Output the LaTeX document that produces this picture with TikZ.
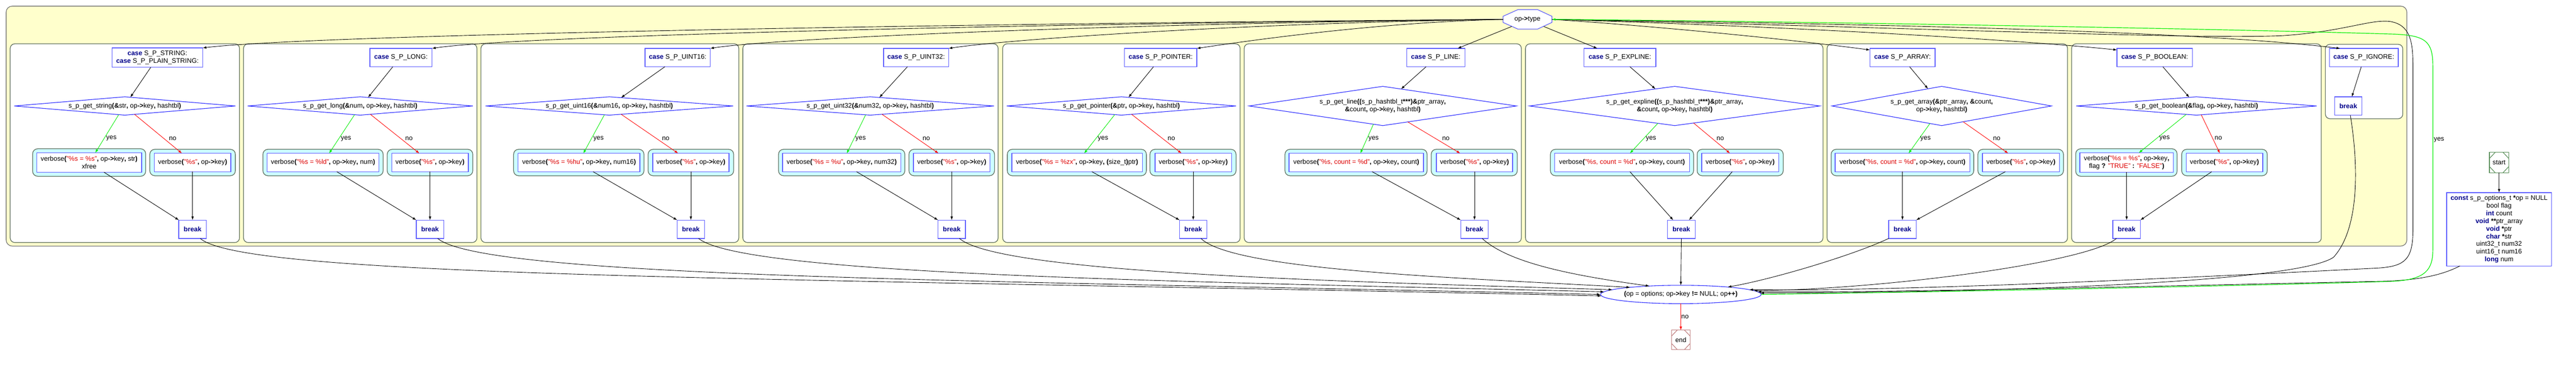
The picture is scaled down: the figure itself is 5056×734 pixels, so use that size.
\documentclass[tikz,border=0pt]{standalone}
\usepackage{fontspec}
\setmainfont{Liberation Sans}
\usetikzlibrary{calc,arrows.meta,shapes.geometric}
\pgfdeclarelayer{back}
\pgfdeclarelayer{mid}
\pgfsetlayers{back,mid,main}
\definecolor{kwc}{HTML}{00008B}
\definecolor{strc}{HTML}{DD0000}
\definecolor{boxb}{HTML}{5C5CFF}
\definecolor{diab}{HTML}{2222FF}
\definecolor{clb}{HTML}{5F6F5F}
\definecolor{yelf}{HTML}{FFFFCC}
\definecolor{yelb}{HTML}{777777}
\definecolor{cyanf}{HTML}{CCFFFF}
\definecolor{endc}{HTML}{C08080}
\definecolor{startc}{HTML}{5A8F5A}
\definecolor{yesg}{HTML}{00EE00}
\newcommand{\mykw}[1]{{\bfseries\color{kwc}#1}}
\newcommand{\myop}[1]{{\bfseries #1}}
\newcommand{\mystr}[1]{{\color{strc}#1}}
\tikzset{
  txt/.style={font=\fontsize{13}{15}\selectfont, align=center, inner sep=0pt, outer sep=0pt},
  bluebox/.style={txt, draw=boxb, line width=1.4pt, fill=white},
  textonly/.style={txt},
  clusterbox/.style={draw=clb, line width=1.3pt, fill=white, rounded corners=9pt},
  cyanbox/.style={draw=clb, line width=1.3pt, fill=cyanf, rounded corners=10pt},
  yellowbox/.style={draw=yelb, line width=1.3pt, fill=yelf, rounded corners=12pt},
  diapoly/.style={draw=diab, line width=1.1pt, fill=white},
  octpoly/.style={draw=boxb, line width=1.2pt, fill=white},
  arr/.style={draw=black, line width=0.9pt, -{Latex[length=7pt,width=5pt]}},
  yesarr/.style={arr, draw=yesg},
  noarr/.style={arr, draw=red},
  elabel/.style={txt, anchor=west},
  msq/.style={txt, line width=1.2pt, minimum width=38pt, minimum height=40pt},
}
\begin{document}
\begin{tikzpicture}[x=1pt,y=-1pt]
\useasboundingbox (0,0) rectangle (5056,734);

% ---------------- backgrounds (clusters) ----------------
\begin{pgfonlayer}{back}
\draw[yellowbox] (12,12) rectangle (4724,483);
\draw[clusterbox] (20,86) rectangle (470,476);
\draw[clusterbox] (478,86) rectangle (936,476);
\draw[clusterbox] (944,86) rectangle (1450,476);
\draw[clusterbox] (1458,86) rectangle (1959,476);
\draw[clusterbox] (1968,86) rectangle (2434,476);
\draw[clusterbox] (2442,86) rectangle (2986,476);
\draw[clusterbox] (2994,86) rectangle (3578,476);
\draw[clusterbox] (3586,86) rectangle (4058,476);
\draw[clusterbox] (4066,86) rectangle (4556,476);
\draw[clusterbox] (4564,87) rectangle (4716,233);
% cyan wrappers
\draw[cyanbox] (64,292) rectangle (286,346);
\draw[cyanbox] (294,293) rectangle (462,345);
\draw[cyanbox] (516,293) rectangle (752,345);
\draw[cyanbox] (760,293) rectangle (928,345);
\draw[cyanbox] (1008,293) rectangle (1264,345);
\draw[cyanbox] (1272,293) rectangle (1440,345);
\draw[cyanbox] (1528,293) rectangle (1776,345);
\draw[cyanbox] (1784,293) rectangle (1952,345);
\draw[cyanbox] (1977,293) rectangle (2250,345);
\draw[cyanbox] (2257,293) rectangle (2426,345);
\draw[cyanbox] (2522,293) rectangle (2801,345);
\draw[cyanbox] (2809,293) rectangle (2978,345);
\draw[cyanbox] (3043,293) rectangle (3324,345);
\draw[cyanbox] (3331,293) rectangle (3500,345);
\draw[cyanbox] (3594,293) rectangle (3874,345);
\draw[cyanbox] (3882,293) rectangle (4050,345);
\draw[cyanbox] (4074,292) rectangle (4273,346);
\draw[cyanbox] (4282,293) rectangle (4450,345);
\end{pgfonlayer}

% ---------------- nodes ----------------
\node[textonly, minimum width=96pt, minimum height=38pt] (ot) at (2998,38) {op\myop{->}type};

% cluster 1
\node[bluebox, minimum width=178pt, minimum height=38pt] (c1) at (309,113) {\mykw{case} S\_P\_STRING:\\\mykw{case} S\_P\_PLAIN\_STRING:};
\node[textonly, minimum width=434pt, minimum height=36pt] (d1) at (245,208) {s\_p\_get\_string\myop{(\&}str\myop{,} op\myop{->}key\myop{,} hashtbl\myop{)}};
\node[bluebox, minimum width=206pt, minimum height=38pt] (y1) at (175,319) {verbose\myop{(}\mystr{"\%s = \%s"}\myop{,} op\myop{->}key\myop{,} str\myop{)}\\xfree};
\node[bluebox, minimum width=150pt, minimum height=36pt] (n1) at (378,319) {verbose\myop{(}\mystr{"\%s"}\myop{,} op\myop{->}key\myop{)}};
\node[bluebox, minimum width=54pt, minimum height=36pt] (b1) at (378,450) {\mykw{break}};

% cluster 2
\node[bluebox, minimum width=122pt, minimum height=36pt] (c2) at (787,113) {\mykw{case} S\_P\_LONG:};
\node[textonly, minimum width=442pt, minimum height=36pt] (d2) at (707,208) {s\_p\_get\_long\myop{(\&}num\myop{,} op\myop{->}key\myop{,} hashtbl\myop{)}};
\node[bluebox, minimum width=220pt, minimum height=36pt] (y2) at (634,319) {verbose\myop{(}\mystr{"\%s = \%ld"}\myop{,} op\myop{->}key\myop{,} num\myop{)}};
\node[bluebox, minimum width=150pt, minimum height=36pt] (n2) at (844,319) {verbose\myop{(}\mystr{"\%s"}\myop{,} op\myop{->}key\myop{)}};
\node[bluebox, minimum width=54pt, minimum height=36pt] (b2) at (844,450) {\mykw{break}};

% cluster 3
\node[bluebox, minimum width=128pt, minimum height=36pt] (c3) at (1330,113) {\mykw{case} S\_P\_UINT16:};
\node[textonly, minimum width=486pt, minimum height=36pt] (d3) at (1196,208) {s\_p\_get\_uint16\myop{(\&}num16\myop{,} op\myop{->}key\myop{,} hashtbl\myop{)}};
\node[bluebox, minimum width=239pt, minimum height=36pt] (y3) at (1136.5,319) {verbose\myop{(}\mystr{"\%s = \%hu"}\myop{,} op\myop{->}key\myop{,} num16\myop{)}};
\node[bluebox, minimum width=150pt, minimum height=36pt] (n3) at (1356,319) {verbose\myop{(}\mystr{"\%s"}\myop{,} op\myop{->}key\myop{)}};
\node[bluebox, minimum width=54pt, minimum height=36pt] (b3) at (1356,450) {\mykw{break}};

% cluster 4
\node[bluebox, minimum width=128pt, minimum height=36pt] (c4) at (1798,113) {\mykw{case} S\_P\_UINT32:};
\node[textonly, minimum width=486pt, minimum height=36pt] (d4) at (1708,208) {s\_p\_get\_uint32\myop{(\&}num32\myop{,} op\myop{->}key\myop{,} hashtbl\myop{)}};
\node[bluebox, minimum width=232pt, minimum height=36pt] (y4) at (1652,319) {verbose\myop{(}\mystr{"\%s = \%u"}\myop{,} op\myop{->}key\myop{,} num32\myop{)}};
\node[bluebox, minimum width=150pt, minimum height=36pt] (n4) at (1868,319) {verbose\myop{(}\mystr{"\%s"}\myop{,} op\myop{->}key\myop{)}};
\node[bluebox, minimum width=54pt, minimum height=36pt] (b4) at (1868,450) {\mykw{break}};

% cluster 5
\node[bluebox, minimum width=142pt, minimum height=36pt] (c5) at (2278,113) {\mykw{case} S\_P\_POINTER:};
\node[textonly, minimum width=450pt, minimum height=36pt] (d5) at (2201,208) {s\_p\_get\_pointer\myop{(\&}ptr\myop{,} op\myop{->}key\myop{,} hashtbl\myop{)}};
\node[bluebox, minimum width=256pt, minimum height=36pt] (y5) at (2114,319) {verbose\myop{(}\mystr{"\%s = \%zx"}\myop{,} op\myop{->}key\myop{, (}size\_t\myop{)}ptr\myop{)}};
\node[bluebox, minimum width=150pt, minimum height=36pt] (n5) at (2342,319) {verbose\myop{(}\mystr{"\%s"}\myop{,} op\myop{->}key\myop{)}};
\node[bluebox, minimum width=54pt, minimum height=36pt] (b5) at (2342,450) {\mykw{break}};

% cluster 6
\node[bluebox, minimum width=114pt, minimum height=36pt] (c6) at (2818,113) {\mykw{case} S\_P\_LINE:};
\node[textonly, minimum width=525pt, minimum height=77pt] (d6) at (2714,208) {s\_p\_get\_line\myop{((}s\_p\_hashtbl\_t\myop{***)\&}ptr\_array\myop{,}\\\myop{\&}count\myop{,} op\myop{->}key\myop{,} hashtbl\myop{)}};
\node[bluebox, minimum width=264pt, minimum height=36pt] (y6) at (2662,319) {verbose\myop{(}\mystr{"\%s, count = \%d"}\myop{,} op\myop{->}key\myop{,} count\myop{)}};
\node[bluebox, minimum width=150pt, minimum height=36pt] (n6) at (2894,319) {verbose\myop{(}\mystr{"\%s"}\myop{,} op\myop{->}key\myop{)}};
\node[bluebox, minimum width=54pt, minimum height=36pt] (b6) at (2894,450) {\mykw{break}};

% cluster 7
\node[bluebox, minimum width=141pt, minimum height=36pt] (c7) at (3179.5,113) {\mykw{case} S\_P\_EXPLINE:};
\node[textonly, minimum width=570pt, minimum height=77pt] (d7) at (3287,208) {s\_p\_get\_expline\myop{((}s\_p\_hashtbl\_t\myop{***)\&}ptr\_array\myop{,}\\\myop{\&}count\myop{,} op\myop{->}key\myop{,} hashtbl\myop{)}};
\node[bluebox, minimum width=265pt, minimum height=36pt] (y7) at (3183.5,319) {verbose\myop{(}\mystr{"\%s, count = \%d"}\myop{,} op\myop{->}key\myop{,} count\myop{)}};
\node[bluebox, minimum width=151pt, minimum height=36pt] (n7) at (3415.5,319) {verbose\myop{(}\mystr{"\%s"}\myop{,} op\myop{->}key\myop{)}};
\node[bluebox, minimum width=54pt, minimum height=36pt] (b7) at (3300,450) {\mykw{break}};

% cluster 8
\node[bluebox, minimum width=128pt, minimum height=36pt] (c8) at (3734,113) {\mykw{case} S\_P\_ARRAY:};
\node[textonly, minimum width=431pt, minimum height=77pt] (d8) at (3811,208) {s\_p\_get\_array\myop{(\&}ptr\_array\myop{, \&}count\myop{,}\\op\myop{->}key\myop{,} hashtbl\myop{)}};
\node[bluebox, minimum width=264pt, minimum height=36pt] (y8) at (3734,319) {verbose\myop{(}\mystr{"\%s, count = \%d"}\myop{,} op\myop{->}key\myop{,} count\myop{)}};
\node[bluebox, minimum width=151pt, minimum height=36pt] (n8) at (3966.5,319) {verbose\myop{(}\mystr{"\%s"}\myop{,} op\myop{->}key\myop{)}};
\node[bluebox, minimum width=54pt, minimum height=36pt] (b8) at (3734,450) {\mykw{break}};

% cluster 9
\node[bluebox, minimum width=148pt, minimum height=36pt] (c9) at (4229,113) {\mykw{case} S\_P\_BOOLEAN:};
\node[textonly, minimum width=472pt, minimum height=36pt] (d9) at (4311,208) {s\_p\_get\_boolean\myop{(\&}flag\myop{,} op\myop{->}key\myop{,} hashtbl\myop{)}};
\node[bluebox, minimum width=184pt, minimum height=38pt] (y9) at (4174,319) {verbose\myop{(}\mystr{"\%s = \%s"}\myop{,} op\myop{->}key\myop{,}\\flag \myop{?} \mystr{"TRUE"} \myop{:} \mystr{"FALSE"}\myop{)}};
\node[bluebox, minimum width=150pt, minimum height=36pt] (n9) at (4366,319) {verbose\myop{(}\mystr{"\%s"}\myop{,} op\myop{->}key\myop{)}};
\node[bluebox, minimum width=54pt, minimum height=36pt] (b9) at (4174,450) {\mykw{break}};

% cluster 10
\node[bluebox, minimum width=135pt, minimum height=36pt] (c10) at (4639.5,113) {\mykw{case} S\_P\_IGNORE:};
\node[bluebox, minimum width=54pt, minimum height=36pt] (b10) at (4609,208) {\mykw{break}};

% outside
\node[msq, draw=startc] (st) at (4905,319) {start};
\node[bluebox, minimum width=206pt, minimum height=144pt] (cb) at (4905,450) {\mykw{const} s\_p\_options\_t \myop{*}op = NULL\\bool flag\\\mykw{int} count\\\mykw{void} \myop{**}ptr\_array\\\mykw{void} \myop{*}ptr\\\mykw{char} \myop{*}str\\uint32\_t num32\\uint16\_t num16\\\mykw{long} num};
\node[txt, draw=diab, line width=1.1pt, fill=white, ellipse, minimum width=312pt, minimum height=36pt] (loop) at (3299,578) {\myop{(}op = options; op\myop{->}key \myop{!=} NULL; op\myop{++)}};
\node[msq, draw=endc, minimum width=36pt, minimum height=38pt] (en) at (3299,667) {end};

% ---------------- shape outlines ----------------
\begin{pgfonlayer}{mid}
\draw[octpoly] ($(ot.north west)+(0,13)$) -- ($(ot.north west)+(29,0)$) -- ($(ot.north east)+(-28,0)$) -- ($(ot.north east)+(0,13)$) -- ($(ot.south east)+(0,-13)$) -- ($(ot.south east)+(-28,0)$) -- ($(ot.south west)+(29,0)$) -- ($(ot.south west)+(0,-13)$) -- cycle;
\foreach \d in {d1,d2,d3,d4,d5,d6,d7,d8,d9}{
  \draw[diapoly] (\d.west) -- (\d.north) -- (\d.east) -- (\d.south) -- cycle;
}
\end{pgfonlayer}
\foreach \n/\c in {st/startc,en/endc}{
  \draw[\c, line width=1.2pt] ($(\n.north west)!0.3!(\n.north east)$) -- ($(\n.north west)!0.3!(\n.south west)$)
     ($(\n.north east)!0.3!(\n.north west)$) -- ($(\n.north east)!0.3!(\n.south east)$)
     ($(\n.south west)!0.3!(\n.south east)$) -- ($(\n.south west)!0.3!(\n.north west)$)
     ($(\n.south east)!0.3!(\n.south west)$) -- ($(\n.south east)!0.3!(\n.north east)$);
}

% ---------------- edges: op->type to cases ----------------
\draw[arr] (ot.west) .. controls (1700,48) and (600,70) .. (c1.north east);
\draw[arr] (ot.west) .. controls (1900,48) and (1000,72) .. (c2.north east);
\draw[arr] (ot.west) .. controls (2200,46) and (1520,75) .. (c3.north east);
\draw[arr] (ot.west) .. controls (2450,45) and (1980,77) .. (c4.north east);
\draw[arr] (ot.west) .. controls (2700,44) and (2450,80) .. (c5.north east);
\draw[arr] ($(ot.south west)+(17,-5)$) -- ($(c6.north east)+(-14,0)$);
\draw[arr] ($(ot.south east)+(-16,-5)$) -- ($(c7.north west)+(26,0)$);
\draw[arr] (ot.east) .. controls (3300,55) and (3550,82) .. ($(c8.north west)+(0,3)$);
\draw[arr] (ot.east) .. controls (3600,55) and (4000,82) .. ($(c9.north west)+(0,3)$);
\draw[arr] (ot.east) .. controls (3700,48) and (4300,60) .. ($(c10.north west)+(21,0)$);

% ---------------- edges inside clusters ----------------
% case -> decision
\draw[arr] ($(c1.south)+(-13,0)$) -- ($(d1.north)!0.05!(d1.east)$);
\draw[arr] ($(c2.south)+(-16,0)$) -- ($(d2.north)!0.07!(d2.east)$);
\draw[arr] ($(c3.south)+(-25,0)$) -- ($(d3.north)!0.095!(d3.east)$);
\draw[arr] ($(c4.south)+(-17,0)$) -- ($(d4.north)!0.074!(d4.east)$);
\draw[arr] ($(c5.south)+(-14,0)$) -- ($(d5.north)!0.062!(d5.east)$);
\draw[arr] ($(c6.south)+(-19,0)$) -- ($(d6.north)!0.137!(d6.east)$);
\draw[arr] ($(c7.south)+(19.5,0)$) -- ($(d7.north)!0.133!(d7.west)$);
\draw[arr] ($(c8.south)+(14,0)$) -- ($(d8.north)!0.125!(d8.west)$);
\draw[arr] ($(c9.south)+(16,0)$) -- ($(d9.north)!0.06!(d9.west)$);
\draw[arr] ($(c10.south)+(-5,0)$) -- ($(b10.north)+(7,0)$);

% yes branches
\draw[yesarr] ($(d1.south)!0.055!(d1.west)$) -- node[elabel,pos=0.62,xshift=4pt]{yes} ($(y1.north)+(12,0)$);
\draw[yesarr] ($(d2.south)!0.05!(d2.west)$) -- node[elabel,pos=0.62,xshift=4pt]{yes} ($(y2.north)+(12,0)$);
\draw[yesarr] ($(d3.south)!0.04!(d3.west)$) -- node[elabel,pos=0.62,xshift=4pt]{yes} ($(y3.north)+(8.5,0)$);
\draw[yesarr] ($(d4.south)!0.037!(d4.west)$) -- node[elabel,pos=0.62,xshift=3pt]{yes} ($(y4.north)+(10,0)$);
\draw[yesarr] ($(d5.south)!0.058!(d5.west)$) -- node[elabel,pos=0.62,xshift=4pt]{yes} ($(y5.north)+(14,0)$);
\draw[yesarr] ($(d6.south)!0.07!(d6.west)$) -- node[elabel,pos=0.5,xshift=3pt]{yes} ($(y6.north)+(8,0)$);
\draw[yesarr] ($(d7.south)!0.116!(d7.west)$) -- node[elabel,pos=0.52,xshift=5pt]{yes} ($(y7.north)+(15.5,0)$);
\draw[yesarr] ($(d8.south)!0.107!(d8.west)$) -- node[elabel,pos=0.52,xshift=3pt]{yes} ($(y8.north)+(12,0)$);
\draw[yesarr] ($(d9.south)!0.085!(d9.west)$) -- node[elabel,pos=0.62,xshift=5pt]{yes} ($(y9.north)+(24,0)$);

% no branches
\draw[noarr] ($(d1.south)!0.088!(d1.east)$) -- node[elabel,pos=0.62,xshift=10pt]{no} ($(n1.north)+(-21,0)$);
\draw[noarr] ($(d2.south)!0.09!(d2.east)$) -- node[elabel,pos=0.62,xshift=9pt]{no} ($(n2.north)+(-21,0)$);
\draw[noarr] ($(d3.south)!0.095!(d3.east)$) -- node[elabel,pos=0.62,xshift=11pt]{no} ($(n3.north)+(-25,0)$);
\draw[noarr] ($(d4.south)!0.095!(d4.east)$) -- node[elabel,pos=0.62,xshift=11pt]{no} ($(n4.north)+(-26,0)$);
\draw[noarr] ($(d5.south)!0.089!(d5.east)$) -- node[elabel,pos=0.62,xshift=10pt]{no} ($(n5.north)+(-23,0)$);
\draw[noarr] ($(d6.south)!0.187!(d6.east)$) -- node[elabel,pos=0.54,xshift=12pt]{no} ($(n6.north)+(-28,0)$);
\draw[noarr] ($(d7.south)!0.13!(d7.east)$) -- node[elabel,pos=0.52,xshift=8pt]{no} ($(n7.north)+(-20,0)$);
\draw[noarr] ($(d8.south)!0.195!(d8.east)$) -- node[elabel,pos=0.54,xshift=11pt]{no} ($(n8.north)+(-25,0)$);
\draw[noarr] ($(d9.south)!0.04!(d9.east)$) -- node[elabel,pos=0.61,xshift=4pt]{no} ($(n9.north)+(-9,0)$);

% to break
\draw[arr] ($(y1.south)+(29,0)$) -- (b1.north west);
\draw[arr] (n1.south) -- (b1.north);
\draw[arr] ($(y2.south)+(27,0)$) -- (b2.north west);
\draw[arr] (n2.south) -- (b2.north);
\draw[arr] ($(y3.south)+(27.5,0)$) -- (b3.north west);
\draw[arr] (n3.south) -- (b3.north);
\draw[arr] ($(y4.south)+(29,0)$) -- (b4.north west);
\draw[arr] (n4.south) -- (b4.north);
\draw[arr] ($(y5.south)+(29,0)$) -- (b5.north west);
\draw[arr] (n5.south) -- (b5.north);
\draw[arr] ($(y6.south)+(31,0)$) -- (b6.north west);
\draw[arr] (n6.south) -- (b6.north);
\draw[arr] ($(y7.south)+(15.5,0)$) -- ($(b7.north)+(-16,0)$);
\draw[arr] ($(n7.south)+(-15.5,0)$) -- ($(b7.north)+(15,0)$);
\draw[arr] (y8.south) -- (b8.north);
\draw[arr] ($(n8.south)+(-30.5,0)$) -- (b8.north east);
\draw[arr] (y9.south) -- (b9.north);
\draw[arr] ($(n9.south)+(-25,0)$) -- (b9.north east);

% ---------------- edges to the loop ----------------
\draw[arr] ($(b1.south)+(15,0)$) .. controls (480,545) and (1500,545) .. (loop.181);
\draw[arr] ($(b2.south)+(15,0)$) .. controls (950,545) and (1900,550) .. (loop.180);
\draw[arr] ($(b3.south)+(15,0)$) .. controls (1460,540) and (2300,552) .. (loop.178);
\draw[arr] ($(b4.south)+(15,0)$) .. controls (1960,535) and (2600,552) .. (loop.176);
\draw[arr] ($(b5.south)+(15,0)$) .. controls (2420,530) and (2850,545) .. (loop.172);
\draw[arr] ($(b6.south)+(15,0)$) .. controls (2960,515) and (3080,540) .. (loop.165);
\draw[arr] (b7.south) -- (loop.north);
\draw[arr] (b8.south west) .. controls (3640,500) and (3480,548) .. (loop.9);
\draw[arr] ($(b9.south west)+(7,0)$) .. controls (4100,515) and (3700,568) .. (loop.3);
\draw[arr] ($(b10.south)+(4,0)$) .. controls (4630,330) and (4630,450) .. (4580,505) .. controls (4500,560) and (3800,575) .. (loop.1);
\draw[arr] ($(cb.south west)+(26,0)$) .. controls (4790,542) and (4740,550) .. (4680,552) .. controls (4300,560) and (3700,575) .. (loop.2);
% default of the switch
\draw[arr] (ot.east) .. controls (3700,52) and (4300,78) .. (4480,70) .. controls (4600,62) and (4650,38) .. (4690,42) .. controls (4730,48) and (4736,80) .. (4736,130) -- (4736,450) .. controls (4736,510) and (4720,522) .. (4670,526) .. controls (4200,550) and (3700,572) .. (loop.4);
% loop yes -> op->type
\draw[yesarr, line width=1.2pt] (loop.east) .. controls (4000,570) and (4600,556) .. (4700,552) .. controls (4760,548) and (4775,530) .. (4775,490) -- node[elabel,pos=0.6,xshift=2pt]{yes} (4775,130) .. controls (4775,80) and (4760,70) .. (4700,67) .. controls (4300,55) and (3500,42) .. (ot.east);
% start, end
\draw[arr] (st.south) -- (cb.north);
\draw[noarr] (loop.south) -- node[elabel,pos=0.5,xshift=1pt]{no} (en.north);
\end{tikzpicture}
\end{document}
